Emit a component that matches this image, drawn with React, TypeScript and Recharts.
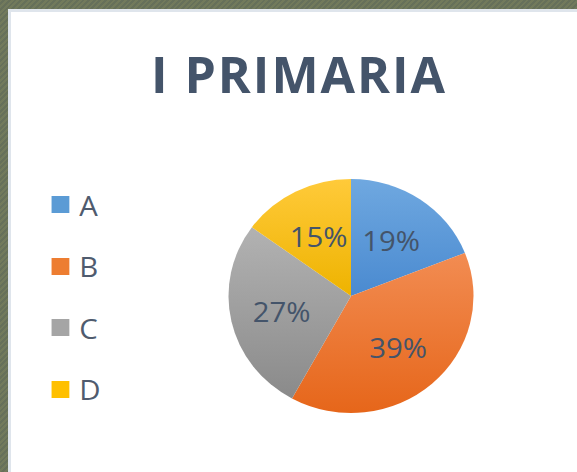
import React from "react";
import { PieChart, Pie, Cell, Legend } from "recharts";

const categories = ["A", "B", "C", "D"];
const values = [19, 39, 27, 15];
const gradients = [
  ["#6fa8e0", "#4a8ad0"],
  ["#f28c52", "#e6661a"],
  ["#b2b2b2", "#8a8a8a"],
  ["#ffca3a", "#eeb300"],
];
const legendColors = ["#5b9bd5", "#ed7d31", "#a5a5a5", "#ffc000"];
const title = "I PRIMARIA";

const data = categories.map((name, i) => ({ name, value: values[i] }));

const SX = 1.047;
const RAD = Math.PI / 180;
const renderLabel = (props: any) => {
  const { cx, cy, midAngle, percent } = props;
  const r = 68;
  const x = cx + r * Math.cos(-midAngle * RAD);
  const y = cy + r * Math.sin(-midAngle * RAD);
  return (
    <text
      x={x}
      y={y}
      fill="#44546a"
      textAnchor="middle"
      dominantBaseline="central"
      style={{ fontFamily: "'Open Sans', sans-serif", fontSize: 28 }}
    >
      {`${Math.round(percent * 100)}%`}
    </text>
  );
};

const renderLegend = (props: any) => {
  const { payload } = props;
  return (
    <div style={{ display: "flex", flexDirection: "column" }}>
      {payload.map((entry: any) => (
        <div
          key={entry.value}
          style={{ display: "flex", alignItems: "center", height: 61.5 }}
        >
          <div
            style={{
              width: 17,
              height: 17,
              background: legendColors[categories.indexOf(entry.value)],
              marginRight: 10,
            }}
          />
          <span
            style={{
              fontFamily: "'Open Sans', sans-serif",
              fontSize: 28,
              color: "#4f5b6e",
              lineHeight: 1,
            }}
          >
            {entry.value}
          </span>
        </div>
      ))}
    </div>
  );
};

export default function App() {
  return (
    <div
      style={{
        position: "absolute",
        left: 0,
        top: 0,
        width: 577,
        height: 472,
        overflow: "hidden",
        background:
          "repeating-linear-gradient(135deg, #727a5c 0px, #727a5c 2px, #66705a 2px, #66705a 4px)",
      }}
    >
      <div
        style={{
          position: "absolute",
          left: 8,
          top: 9,
          width: 600,
          height: 500,
          background: "#ffffff",
          borderLeft: "3px solid #dfe5ec",
          borderTop: "3px solid #dfe5ec",
          boxSizing: "border-box",
        }}
      />
      <div
        style={{
          position: "absolute",
          left: 0,
          top: 44,
          width: 598,
          textAlign: "center",
          fontFamily: "'Open Sans', sans-serif",
          fontWeight: 700,
          fontSize: 50,
          color: "#44546a",
          letterSpacing: 2,
          lineHeight: "60px",
        }}
      >
        {title}
      </div>
      <div
        style={{
          position: "absolute",
          left: 0,
          top: 0,
          transform: `scaleX(${SX})`,
          transformOrigin: "351px 0px",
        }}
      >
        <PieChart
          width={577}
          height={472}
          margin={{ top: 0, right: 0, bottom: 0, left: 0 }}
        >
          <defs>
            {gradients.map((g, i) => (
              <linearGradient key={i} id={`grad${i}`} x1="0" y1="0" x2="0" y2="1">
                <stop offset="0%" stopColor={g[0]} />
                <stop offset="100%" stopColor={g[1]} />
              </linearGradient>
            ))}
          </defs>
          <Pie
            data={data}
            dataKey="value"
            nameKey="name"
            cx={351}
            cy={296}
            outerRadius={117}
            startAngle={90}
            endAngle={-270}
            stroke="none"
            label={renderLabel}
            labelLine={false}
            isAnimationActive={false}
          >
            {data.map((d, i) => (
              <Cell key={d.name} fill={`url(#grad${i})`} />
            ))}
          </Pie>
          <Legend
            layout="horizontal"
            align="center"
            verticalAlign="middle"
            content={renderLegend}
            wrapperStyle={{ left: 64.5, top: 174, width: 80 }}
          />
        </PieChart>
      </div>
    </div>
  );
}
